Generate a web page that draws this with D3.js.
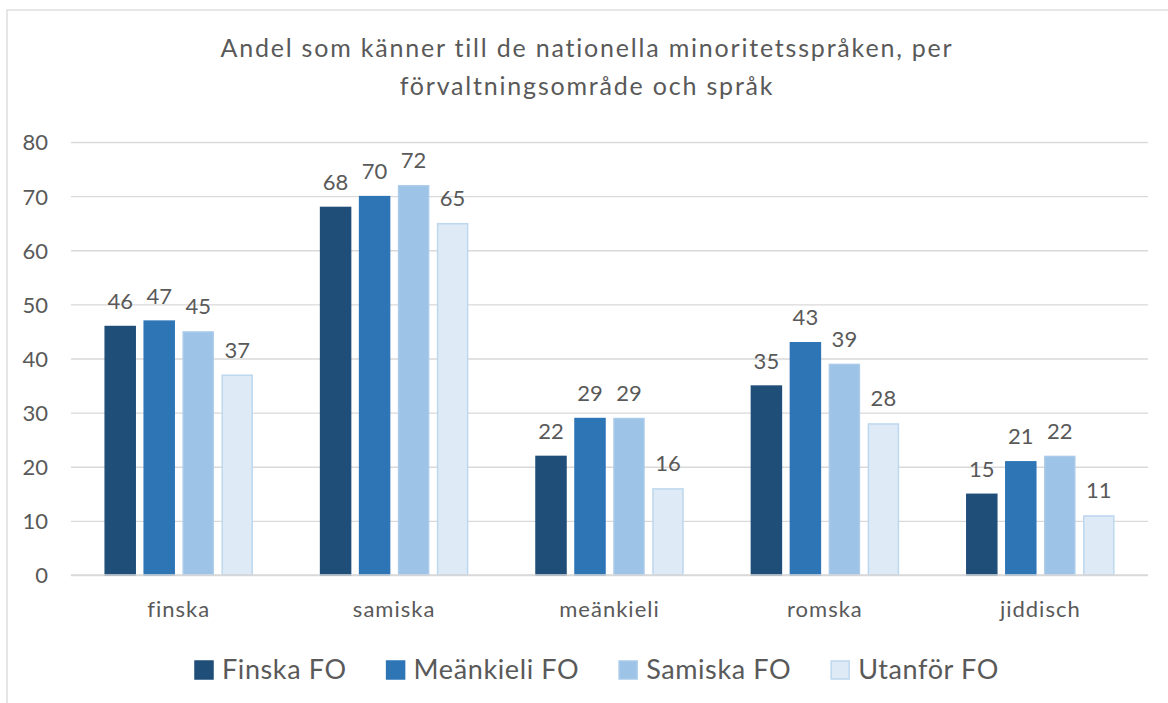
<!DOCTYPE html>
<html>
<head>
<meta charset="utf-8">
<script src="https://cdn.jsdelivr.net/npm/d3@7"></script>
<style>
  html, body { margin: 0; padding: 0; background: #fff; }
  svg { display: block; }
  text { font-family: "Lato", "Open Sans", sans-serif; fill: #595959; }
</style>
</head>
<body>
<svg id="chart" width="1168" height="703"></svg>
<script>
const titleLines = ["Andel som känner till de nationella minoritetsspråken, per", "förvaltningsområde och språk"];
const categories = ["finska", "samiska", "meänkieli", "romska", "jiddisch"];
const seriesNames = ["Finska FO", "Meänkieli FO", "Samiska FO", "Utanför FO"];
const finskaFO    = [46, 68, 22, 35, 15];
const meankieliFO = [47, 70, 29, 43, 21];
const samiskaFO   = [45, 72, 29, 39, 22];
const utanforFO   = [37, 65, 16, 28, 11];
const yTicks = [0, 10, 20, 30, 40, 50, 60, 70, 80];

const seriesValues = [finskaFO, meankieliFO, samiskaFO, utanforFO];
const fills   = ["#1F4E79", "#2E75B6", "#9DC3E6", "#DEEBF7"];
const strokes = ["#1F4E79", "#2E75B6", "#AACBEA", "#BDD7EE"];

const svg = d3.select("#chart");

// outer chart frame
svg.append("rect").attr("x", 7).attr("y", 10).attr("width", 1200).attr("height", 750)
  .attr("fill", "none").attr("stroke", "#d9d9d9").attr("stroke-width", 1.3);

const plot = { left: 71, right: 1148, top: 142, bottom: 575 };

const x0 = d3.scaleBand().domain(categories).range([plot.left, plot.right]).paddingInner(0).paddingOuter(0);
const x1 = d3.scaleBand().domain(seriesNames).range([0, x0.bandwidth()]).paddingInner(0.205).paddingOuter(0.864);
const y = d3.scaleLinear().domain([0, 80]).range([plot.bottom, plot.top]);

// title
svg.append("text").attr("x", 587).attr("y", 57).attr("text-anchor", "middle")
  .style("font-size", "25px").style("letter-spacing", "1.8px")
  .selectAll("tspan").data(titleLines).join("tspan")
  .attr("x", 587).attr("dy", (d, i) => i === 0 ? 0 : 38).text(d => d);

// gridlines
const yAxis = d3.axisLeft(y).tickValues(yTicks).tickSize(-(plot.right - plot.left)).tickPadding(23);
const gy = svg.append("g").attr("transform", `translate(${plot.left},0)`).call(yAxis);
gy.select(".domain").remove();
gy.selectAll(".tick line").attr("stroke", "#d9d9d9").attr("stroke-width", 1.3);
gy.selectAll(".tick text").style("font-size", "22px").attr("fill", "#595959").attr("dy", "0.36em");

// bars
const groups = svg.append("g").selectAll("g").data(categories).join("g")
  .attr("transform", d => `translate(${x0(d)},0)`);

seriesNames.forEach((s, si) => {
  groups.append("rect")
    .attr("x", x1(s) + 0.5)
    .attr("width", x1.bandwidth() - 1)
    .attr("y", (d, ci) => y(seriesValues[si][ci]) + 0.5)
    .attr("height", (d, ci) => y(0) - y(seriesValues[si][ci]) - 0.5)
    .attr("fill", fills[si])
    .attr("stroke", strokes[si])
    .attr("stroke-width", 1.5);
  groups.append("text")
    .attr("x", x1(s) + x1.bandwidth() / 2)
    .attr("y", (d, ci) => y(seriesValues[si][ci]) - 17)
    .attr("text-anchor", "middle")
    .style("font-size", "22px")
    .text((d, ci) => seriesValues[si][ci]);
});

// baseline
svg.append("line").attr("x1", plot.left).attr("x2", plot.right)
  .attr("y1", y(0)).attr("y2", y(0)).attr("stroke", "#d9d9d9").attr("stroke-width", 1.5);

// x axis labels
const xAxis = d3.axisBottom(x0).tickSize(0);
const gx = svg.append("g").attr("transform", `translate(0,${plot.bottom})`).call(xAxis);
gx.select(".domain").remove();
gx.selectAll(".tick text").attr("y", 42).attr("dy", null)
  .style("font-size", "22px").style("letter-spacing", "1px").attr("fill", "#595959");

// legend
const legend = svg.append("g");
const items = legend.selectAll("g").data(seriesNames).join("g");
items.append("rect").attr("width", 18).attr("height", 18).attr("y", -18)
  .attr("fill", (d, i) => fills[i]).attr("stroke", (d, i) => strokes[i]).attr("stroke-width", 1.5);
items.append("text").attr("x", 27).attr("y", 0).style("font-size", "27px")
  .style("letter-spacing", "0.6px").text(d => d);
let pos = 0;
const gap = 40;
items.each(function (d, i) {
  const w = 27 + d3.select(this).select("text").node().getComputedTextLength();
  d3.select(this).attr("transform", `translate(${pos},0)`);
  pos += w + gap;
});
legend.attr("transform", `translate(195,679)`);
</script>
</body>
</html>
